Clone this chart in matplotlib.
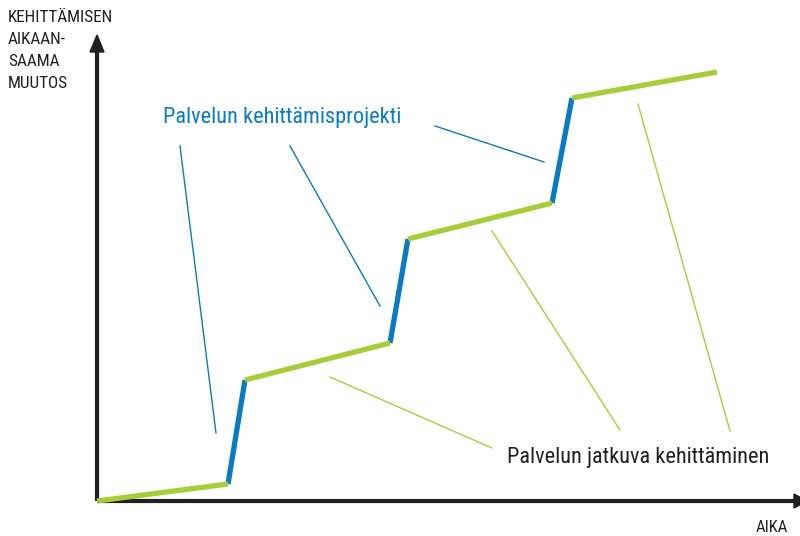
import matplotlib
matplotlib.use("Agg")
import matplotlib.pyplot as plt

# Data (time vs. achieved change), origin at the axes corner
time_pts = [0, 131, 148, 293, 311, 455, 475, 620]
change_pts = [0, 17, 121, 158, 262, 298, 403, 429]
seg_kind = ["jatkuva", "projekti", "jatkuva", "projekti", "jatkuva", "projekti", "jatkuva"]

# annotation leader lines: (x0, y0, x1, y1)
proj_leaders = [(83, 355, 119, 68), (193, 355, 283, 195), (338, 375, 447, 339)]
cont_leaders = [(233, 124, 395, 53), (395, 270, 523, 71), (541, 397, 633, 70)]

ylabel_text = "KEHITTÄMISEN\nAIKAAN-\nSAAMA\nMUUTOS"
xlabel_text = "AIKA"
proj_label = "Palvelun kehittämisprojekti"
cont_label = "Palvelun jatkuva kehittäminen"

BLUE = "#0a7ac2"
GREEN = "#a6cd3a"
DARK = "#231f20"

plt.rcParams['font.family'] = ["Roboto Condensed", "DejaVu Sans"]

fig = plt.figure(figsize=(8, 5.36), dpi=100)
ax = fig.add_axes([0, 0, 1, 1])
ax.set_xlim(-97, 703)
ax.set_ylim(-35, 501)
ax.axis("off")

# axes arrows
ax.plot([0, 0], [0, 452], color=DARK, lw=3, solid_capstyle="butt", zorder=2)
ax.plot([0, 700], [0, 0], color=DARK, lw=3, solid_capstyle="butt", zorder=2)
ax.fill([-7, 7, 0], [449, 449, 466], color=DARK, zorder=2)
ax.fill([697, 697, 710], [-7, 7, 0], color=DARK, zorder=2)

# main line
for i, kind in enumerate(seg_kind):
    c = GREEN if kind == "jatkuva" else BLUE
    ax.plot(time_pts[i:i + 2], change_pts[i:i + 2], color=c, lw=3.8,
            solid_capstyle="butt", zorder=3 if kind == "projekti" else 4)

for x0, y0, x1, y1 in proj_leaders:
    ax.plot([x0, x1], [y0, y1], color=BLUE, lw=1.0)
for x0, y0, x1, y1 in cont_leaders:
    ax.plot([x0, x1], [y0, y1], color=GREEN, lw=1.0)

fig.text(8 / 800, 1 - 10 / 536, ylabel_text, ha="left", va="top", fontsize=12.3,
         color=DARK, linespacing=1.58)
fig.text(772 / 800, 1 - 527 / 536, xlabel_text, ha="center", va="center", fontsize=12, color=DARK)
fig.text(163 / 800, 1 - 118 / 536, proj_label, ha="left", va="center", fontsize=16,
         color=BLUE)
fig.text(507 / 800, 1 - 457 / 536, cont_label, ha="left", va="center", fontsize=16,
         color=DARK)

fig.savefig("out.png", dpi=100)
